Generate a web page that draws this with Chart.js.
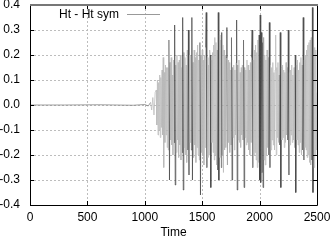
<!DOCTYPE html>
<html><head><meta charset="utf-8">
<script src="https://cdn.jsdelivr.net/npm/chart.js@4/dist/chart.umd.min.js"></script>
<style>html,body{margin:0;padding:0;background:#fff}#w{width:331px;height:240px}</style>
</head><body><div id="w"><canvas id="c"></canvas></div>
<script>
const seriesLabel = "Ht - Ht sym";
const xTitle = "Time";
// quiet lead-in (time, value)
const preTimes  = [0, 300, 600, 900, 1000, 1030, 1050, 1060, 1070, 1080, 1090];
const preValues = [0, 0, 0.001, -0.001, 0.002, -0.004, 0.01, -0.02, 0.03, -0.04, 0.05];
// main signal sampled from t = 1100, every 5 time units
const mainStart = 1100, mainStep = 5;
const mainValues = [
 0.06,-0.08,0.1,-0.12,0.09,-0.1,0.12,-0.13,0.11,-0.09,0.14,-0.12,0.19,-0.25,0.13,-0.15,0.16,-0.12,0.15,-0.17,
 0.15,-0.18,0.26,-0.30,0.17,-0.14,0.19,-0.16,0.12,-0.2,0.18,-0.15,0.32,-0.32,0.16,-0.19,0.2,-0.14,0.17,-0.21,
 0.18,-0.16,0.2,-0.22,0.15,-0.19,0.35,-0.34,0.21,-0.17,0.19,-0.2,0.16,-0.23,0.22,-0.18,0.3,-0.28,0.2,-0.15,
 0.2,-0.18,0.35,-0.3,0.17,-0.21,0.22,-0.16,0.19,-0.23,0.21,-0.17,0.24,-0.2,0.18,-0.22,0.25,-0.36,0.2,-0.19,
 0.22,-0.2,0.18,-0.24,0.2,-0.17,0.23,0.37,-0.25,0.19,-0.21,0.16,-0.2,0.22,0.2,-0.33,0.18,-0.15,0.21,-0.19,
 0.24,-0.22,0.27,-0.2,0.25,-0.24,0.22,-0.26,0.37,-0.3,0.28,-0.21,0.26,-0.25,0.29,-0.2,0.24,-0.27,0.22,-0.18,
 0.2,-0.17,0.19,0.31,-0.24,0.18,-0.15,0.17,-0.19,0.14,-0.16,0.27,-0.3,0.15,-0.13,0.16,-0.18,0.14,-0.12,0.17,
 0.34,-0.34,0.16,-0.14,0.18,-0.15,0.13,-0.17,0.15,-0.12,0.16,-0.14,0.26,-0.33,0.15,-0.13,0.14,-0.16,0.18,-0.15,
 0.16,-0.18,0.14,-0.2,0.17,-0.15,0.19,0.3,-0.25,0.18,-0.2,0.22,-0.19,0.24,-0.22,0.21,-0.25,0.26,-0.23,0.28,
 -0.3,0.36,-0.31,0.29,-0.27,0.25,-0.33,0.27,-0.22,0.2,-0.24,0.18,-0.2,0.22,-0.17,0.19,-0.2,0.33,-0.25,0.16,
 -0.18,0.15,-0.14,0.17,-0.16,0.13,-0.18,0.14,0.28,-0.2,0.15,-0.13,0.17,-0.15,0.12,-0.16,0.29,-0.33,0.15,-0.14,
 0.16,-0.13,0.14,-0.17,0.13,-0.15,0.17,-0.12,0.15,-0.14,0.3,-0.28,0.13,-0.16,0.14,-0.12,0.16,-0.15,0.12,-0.14,
 0.15,-0.17,0.2,-0.35,0.16,-0.14,0.18,-0.16,0.14,-0.19,0.17,-0.15,0.19,-0.2,0.16,-0.18,0.35,-0.22,0.18,-0.17,
 0.2,-0.18,0.22,-0.21,0.24,-0.2,0.25,-0.23,0.26,-0.24,0.27,-0.22,0.39,-0.35,0.26,-0.25,0.23,-0.2,0.22,-0.18,
 0.05
];
const xTicks = [0, 500, 1000, 1500, 2000, 2500];
const yTicks = [-0.4, -0.3, -0.2, -0.1, 0.0, 0.1, 0.2, 0.3, 0.4];

const pts = preTimes.map((t, i) => ({x: t, y: preValues[i]}))
  .concat(mainValues.map((v, i) => ({x: mainStart + i * mainStep, y: v})));

const FONT = "'Liberation Sans', Arial, sans-serif";

const gridPlugin = {
  id: 'dgrid',
  beforeDatasetsDraw(chart) {
    const {ctx, chartArea: a, scales} = chart;
    ctx.save();
    ctx.strokeStyle = '#bdbdbd'; ctx.lineWidth = 1; ctx.setLineDash([2, 2]);
    ctx.beginPath();
    xTicks.forEach(v => { const px = Math.round(scales.x.getPixelForValue(v)) + 0.5;
      ctx.moveTo(px, a.top); ctx.lineTo(px, a.bottom); });
    yTicks.forEach(v => { const py = Math.round(scales.y.getPixelForValue(v)) + 0.5;
      ctx.moveTo(a.left, py); ctx.lineTo(a.right, py); });
    ctx.stroke();
    ctx.restore();
  }
};

const frame = {
  id: 'frame',
  afterDatasetsDraw(chart) {
    const {ctx, chartArea: a, scales} = chart;
    ctx.save();
    ctx.strokeStyle = '#000'; ctx.lineWidth = 1;
    ctx.beginPath();
    xTicks.forEach(v => { const px = Math.round(scales.x.getPixelForValue(v)) + 0.5;
      ctx.moveTo(px, a.bottom); ctx.lineTo(px, a.bottom - 4);
      ctx.moveTo(px, a.top); ctx.lineTo(px, a.top + 4); });
    yTicks.forEach(v => { const py = Math.round(scales.y.getPixelForValue(v)) + 0.5;
      ctx.moveTo(a.left, py); ctx.lineTo(a.left + 4, py);
      ctx.moveTo(a.right, py); ctx.lineTo(a.right - 4, py); });
    ctx.stroke();
    ctx.beginPath();
    ctx.moveTo(a.left + 0.5, a.top); ctx.lineTo(a.left + 0.5, a.bottom + 0.5);
    ctx.lineTo(a.right + 0.5, a.bottom + 0.5); ctx.lineTo(a.right + 0.5, a.top);
    ctx.stroke();
    ctx.strokeStyle = '#777'; ctx.lineWidth = 2;
    ctx.beginPath(); ctx.moveTo(a.left, a.top); ctx.lineTo(a.right + 1, a.top); ctx.stroke();
    // key
    ctx.fillStyle = '#000'; ctx.font = '12px ' + FONT;
    ctx.textAlign = 'right'; ctx.textBaseline = 'middle';
    ctx.fillText(chart.data.datasets[0].label, 119, 15);
    ctx.strokeStyle = '#999'; ctx.lineWidth = 1;
    ctx.beginPath(); ctx.moveTo(127, 14.5); ctx.lineTo(160, 14.5); ctx.stroke();
    ctx.restore();
  }
};

new Chart(document.getElementById('c'), {
  type: 'line',
  data: { datasets: [{
    label: seriesLabel, data: pts, borderWidth: 0.7, pointRadius: 0, tension: 0,
    borderColor: '#999',
    segment: { borderColor: c => {
      const m = Math.max(Math.abs(c.p0.parsed.y), Math.abs(c.p1.parsed.y));
      return m > 0.285 ? '#444' : (m < 0.02 ? '#777' : '#b8b8b8'); } }
  }]},
  options: {
    responsive: true, maintainAspectRatio: false, animation: false,
    layout: { padding: { top: 5, right: 14, bottom: 0, left: 0 } },
    plugins: { legend: { display: false }, tooltip: { enabled: false } },
    scales: {
      x: { type: 'linear', min: 0, max: 2500,
        afterFit: s => { s.height = 35; s.paddingLeft = 0; s.paddingRight = 0; },
        afterBuildTicks: s => { s.ticks = xTicks.map(v => ({value: v})); },
        grid: { display: false, drawTicks: false },
        border: { display: false },
        ticks: { color: '#000', font: { family: FONT, size: 12 }, padding: 5, maxRotation: 0,
                 callback: v => String(v) },
        title: { display: true, text: xTitle, color: '#000', font: { family: FONT, size: 12 }, padding: { top: 0, bottom: 0 } }
      },
      y: { min: -0.4, max: 0.4,
        afterFit: s => { s.width = 30; s.paddingTop = 0; s.paddingBottom = 0; },
        afterBuildTicks: s => { s.ticks = yTicks.map(v => ({value: v})); },
        grid: { display: false, drawTicks: false },
        border: { display: false },
        ticks: { color: '#000', font: { family: FONT, size: 12 }, padding: 10,
                 callback: v => Number(v).toFixed(1) }
      }
    }
  },
  plugins: [gridPlugin, frame]
});
</script></body></html>
